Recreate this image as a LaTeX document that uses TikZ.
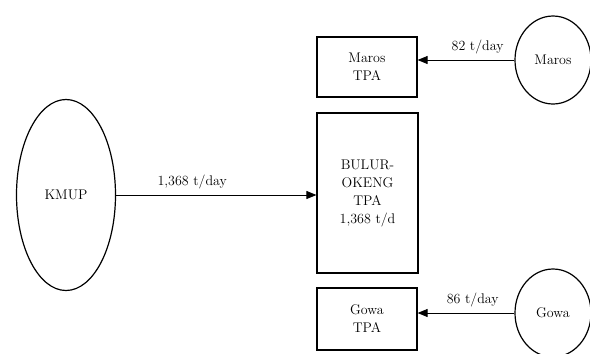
\documentclass[tikz,border=0pt]{standalone}
\usetikzlibrary{
    arrows.meta,
    positioning,
    shapes.geometric
}

\begin{document}
\begin{tikzpicture}[
    x=1pt, y=-1pt,
    >=Triangle,
    site/.style={draw, line width=1.2pt, ellipse, inner sep=0, font=\fontsize{14}{18}\selectfont},
    tpa/.style={draw, line width=1.2pt, rectangle, inner sep=0, align=center, font=\fontsize{14}{18}\selectfont},
    flow/.style={-{Triangle[length=10pt, width=8pt]}, line width=0.9pt},
    label/.style={font=\fontsize{14}{16}\selectfont, above=2pt}
]
\useasboundingbox (0,0) rectangle (590,354);

% Sources
\node[site, minimum width=99pt, minimum height=191pt] (kmup) at (66,195) {KMUP};
\node[site, minimum width=76pt, minimum height=88pt] (maros) at (553,60) {Maros};
\node[site, minimum width=76pt, minimum height=88pt] (gowa) at (553,313) {Gowa};

% Landfills
\node[tpa, minimum width=100pt, minimum height=60pt] (marostpa) at (367,67) {Maros\\TPA};
\node[tpa, minimum width=101pt, minimum height=160pt] (bulur) at (367.5,193) {BULUR-\\OKENG\\TPA\\1,368 t/d};
\node[tpa, minimum width=100pt, minimum height=62pt] (gowatpa) at (367,319) {Gowa\\TPA};

% Flows
\draw[flow] (kmup.east) -- node[label, pos=0.38] {1,368 t/day} (kmup.east -| bulur.west);
\draw[flow] (maros.west) -- node[label, pos=0.38] {82 t/day} (maros.west -| marostpa.east);
\draw[flow] (gowa.west) -- node[label, pos=0.43] {86 t/day} (gowa.west -| gowatpa.east);
\end{tikzpicture}
\end{document}
